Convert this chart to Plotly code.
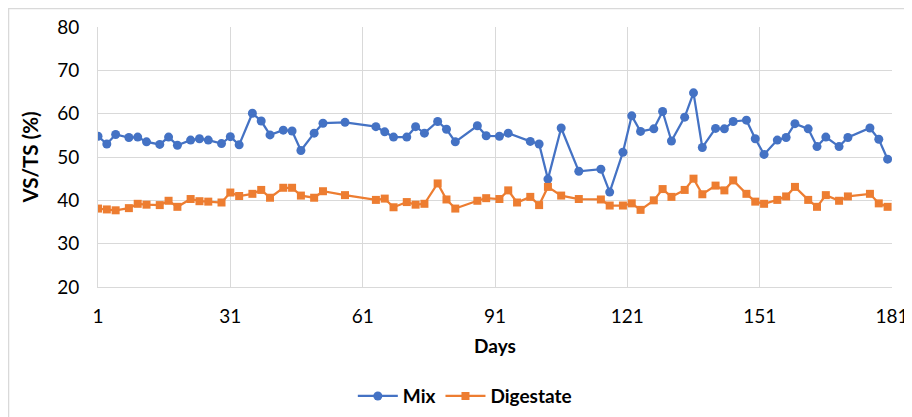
import plotly.graph_objects as go

mix_days = [1, 3, 5, 8, 10, 12, 15, 17, 19, 22, 24, 26, 29, 31, 33, 36, 38, 40, 43, 45, 47, 50, 52, 57,
            64, 66, 68, 71, 73, 75, 78, 80, 82, 87, 89, 92, 94, 99, 101, 103, 106, 110, 115, 117, 120,
            122, 124, 127, 129, 131, 134, 136, 138, 141, 143, 145, 148, 150, 152, 155, 157, 159, 162,
            164, 166, 169, 171, 176, 178, 180]
mix_vals = [54.8, 53.0, 55.2, 54.5, 54.6, 53.5, 52.9, 54.6, 52.7, 53.9, 54.2, 53.9, 53.1, 54.7, 52.8,
            60.1, 58.3, 55.1, 56.2, 56.0, 51.5, 55.5, 57.8, 58.0,
            57.0, 55.8, 54.6, 54.6, 57.0, 55.5, 58.2, 56.4, 53.5, 57.2, 54.9, 54.8, 55.5, 53.6, 53.0,
            44.9, 56.7, 46.7, 47.2, 41.9, 51.1,
            59.5, 55.9, 56.5, 60.5, 53.7, 59.2, 64.8, 52.2, 56.6, 56.5, 58.2, 58.5, 54.2, 50.6, 53.9,
            54.5, 57.7, 56.5, 52.4, 54.6, 52.4, 54.5, 56.7, 54.1, 49.5]

dig_days = [1, 3, 5, 8, 10, 12, 15, 17, 19, 22, 24, 26, 29, 31, 33, 36, 38, 40, 43, 45, 47, 50, 52, 57,
            64, 66, 68, 71, 73, 75, 78, 80, 82, 87, 89, 92, 94, 96, 99, 101, 103, 106, 110, 115, 117, 120,
            122, 124, 127, 129, 131, 134, 136, 138, 141, 143, 145, 148, 150, 152, 155, 157, 159, 162,
            164, 166, 169, 171, 176, 178, 180]
dig_vals = [38.1, 37.9, 37.7, 38.2, 39.2, 39.0, 38.9, 39.9, 38.5, 40.3, 39.8, 39.7, 39.5, 41.8, 41.0,
            41.5, 42.4, 40.6, 42.9, 42.9, 41.1, 40.6, 42.1, 41.2,
            40.1, 40.4, 38.4, 39.6, 39.0, 39.2, 43.9, 40.2, 38.1, 39.9, 40.5, 40.3, 42.3, 39.5, 40.8,
            38.9, 43.1, 41.1, 40.3, 40.2, 38.8, 38.8,
            39.3, 37.8, 40.0, 42.6, 40.8, 42.4, 45.0, 41.4, 43.4, 42.3, 44.6, 41.5, 39.7, 39.2, 40.1,
            40.9, 43.1, 40.1, 38.5, 41.2, 39.9, 40.9, 41.5, 39.3, 38.5]

x_ticks = [1, 31, 61, 91, 121, 151, 181]
y_ticks = [20, 30, 40, 50, 60, 70, 80]

FONT = "Lato, 'Open Sans', sans-serif"
FS = 19

fig = go.Figure()
fig.add_trace(go.Scatter(
    x=mix_days, y=mix_vals, name="Mix", mode="lines+markers",
    line=dict(color="#4472C4", width=2.25),
    marker=dict(symbol="circle", size=9, color="#4472C4"),
))
fig.add_trace(go.Scatter(
    x=dig_days, y=dig_vals, name="Digestate", mode="lines+markers",
    line=dict(color="#ED7D31", width=2.25),
    marker=dict(symbol="square", size=8, color="#ED7D31"),
))

fig.update_layout(
    width=904, height=409,
    paper_bgcolor="white", plot_bgcolor="white",
    margin=dict(l=90, r=20, t=19, b=130, autoexpand=False),
    font=dict(family=FONT, size=FS, color="#000000"),
    showlegend=True,
    legend=dict(orientation="h", xref="paper", x=0.462, xanchor="center",
                yref="container", y=0.051, yanchor="middle",
                font=dict(family=FONT, size=FS, color="#000000", weight="bold"),
                itemwidth=40, traceorder="normal"),
    xaxis=dict(
        range=[1, 181], tickvals=x_ticks, ticktext=[str(v) for v in x_ticks],
        showgrid=True, gridcolor="#D9D9D9", gridwidth=1,
        zeroline=False, showline=True, linecolor="#D9D9D9", linewidth=1,
        ticks="", ticklabelstandoff=12, automargin=False,
        title=dict(text="<b>Days</b>", standoff=13, font=dict(family=FONT, size=FS)),
        tickfont=dict(family=FONT, size=FS),
    ),
    yaxis=dict(
        range=[20, 80], tickvals=y_ticks,
        showgrid=True, gridcolor="#D9D9D9", gridwidth=1,
        zeroline=False, showline=True, linecolor="#D9D9D9", linewidth=1,
        ticks="", ticklabelstandoff=14, automargin=False,
        title=dict(text="<b>VS/TS (%)</b>", standoff=12, font=dict(family=FONT, size=20.5)),
        tickfont=dict(family=FONT, size=FS),
    ),
    shapes=[dict(type="rect", xref="paper", yref="paper",
                 x0=-0.1127, x1=1.05, y0=-0.6, y1=1.0712,
                 line=dict(color="#D9D9D9", width=1.5), fillcolor="rgba(0,0,0,0)", layer="below")],
)

fig.write_html("out.html")
